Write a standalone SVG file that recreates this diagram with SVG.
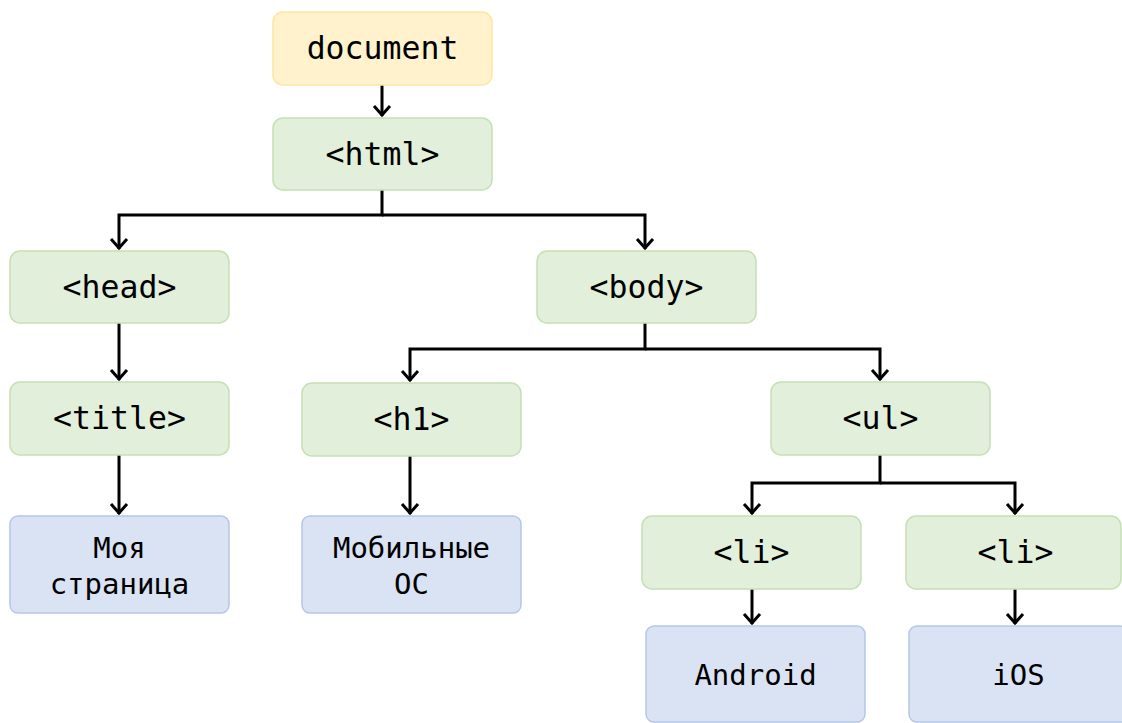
<svg xmlns="http://www.w3.org/2000/svg" width="1122" height="723" viewBox="0 0 1122 723">
  <style>
    .box { stroke-width: 1.5; }
    .doc { fill: #fff2cc; stroke: #ffe5a0; }
    .tag { fill: #e2efda; stroke: #c5e0b4; }
    .leaf { fill: #dae3f3; stroke: #b4c7e7; }
    .t { font-family: "DejaVu Sans Mono", "Liberation Mono", monospace; fill: #000; text-anchor: middle; }
    .tt { font-size: 31.5px; }
    .lt { font-size: 29px; }
    .edge { fill: none; stroke: #000; stroke-width: 3; }
  </style>
  <defs>
    <!-- open "V" arrowhead, drawn along +x so orient="auto" follows the line -->
    <marker id="open" viewBox="0 0 20 20" refX="18" refY="10" markerWidth="20" markerHeight="20" markerUnits="userSpaceOnUse" orient="auto">
      <path d="M8,2 L17,10 L8,18" fill="none" stroke="#000" stroke-width="3"/>
    </marker>
  </defs>
  <rect width="1122" height="723" fill="#fff"/>

  <g id="edges">
    <path class="edge" d="M382,85 V116" marker-end="url(#open)"/>
    <path class="edge" d="M382,190 V215 H119 V249" marker-end="url(#open)"/>
    <path class="edge" d="M382,215 H645 V249" marker-end="url(#open)"/>
    <path class="edge" d="M119,323 V380" marker-end="url(#open)"/>
    <path class="edge" d="M119,455 V514" marker-end="url(#open)"/>
    <path class="edge" d="M645,323 V349 H410 V381" marker-end="url(#open)"/>
    <path class="edge" d="M645,349 H880 V380" marker-end="url(#open)"/>
    <path class="edge" d="M410,456 V514" marker-end="url(#open)"/>
    <path class="edge" d="M880,455 V483 H752 V514" marker-end="url(#open)"/>
    <path class="edge" d="M880,483 H1015 V514" marker-end="url(#open)"/>
    <path class="edge" d="M752,589 V624" marker-end="url(#open)"/>
    <path class="edge" d="M1015,589 V624" marker-end="url(#open)"/>
  </g>

  <g id="document">
    <rect class="box doc" x="273" y="12" width="219" height="73" rx="10"/>
    <text class="t tt" x="382.5" y="59">document</text>
  </g>
  <g id="html">
    <rect class="box tag" x="273" y="118" width="219" height="72" rx="10"/>
    <text class="t tt" x="382.5" y="165">&lt;html&gt;</text>
  </g>
  <g id="head">
    <rect class="box tag" x="10" y="251" width="219" height="72" rx="10"/>
    <text class="t tt" x="119.5" y="298">&lt;head&gt;</text>
  </g>
  <g id="body">
    <rect class="box tag" x="537" y="251" width="219" height="72" rx="10"/>
    <text class="t tt" x="646.5" y="298">&lt;body&gt;</text>
  </g>
  <g id="title">
    <rect class="box tag" x="10" y="382" width="219" height="73" rx="10"/>
    <text class="t tt" x="119.5" y="429">&lt;title&gt;</text>
  </g>
  <g id="h1">
    <rect class="box tag" x="302" y="383" width="219" height="73" rx="10"/>
    <text class="t tt" x="411.5" y="430">&lt;h1&gt;</text>
  </g>
  <g id="ul">
    <rect class="box tag" x="771" y="382" width="219" height="73" rx="10"/>
    <text class="t tt" x="880.5" y="429">&lt;ul&gt;</text>
  </g>
  <g id="title-text">
    <rect class="box leaf" x="10" y="516" width="219" height="97" rx="8"/>
    <text class="t lt" x="119.5" y="558">Моя</text>
    <text class="t lt" x="119.5" y="594">страница</text>
  </g>
  <g id="h1-text">
    <rect class="box leaf" x="302" y="516" width="219" height="97" rx="8"/>
    <text class="t lt" x="411.5" y="558">Мобильные</text>
    <text class="t lt" x="411.5" y="594">ОС</text>
  </g>
  <g id="li-1">
    <rect class="box tag" x="642" y="516" width="219" height="73" rx="10"/>
    <text class="t tt" x="751.5" y="563">&lt;li&gt;</text>
  </g>
  <g id="li-2">
    <rect class="box tag" x="906" y="516" width="215" height="73" rx="10"/>
    <text class="t tt" x="1015.5" y="563">&lt;li&gt;</text>
  </g>
  <g id="li-1-text">
    <rect class="box leaf" x="646" y="626" width="219" height="96" rx="8"/>
    <text class="t lt" x="755.5" y="685">Android</text>
  </g>
  <g id="li-2-text">
    <rect class="box leaf" x="909" y="626" width="219" height="96" rx="8"/>
    <text class="t lt" x="1018.5" y="685">iOS</text>
  </g>
</svg>
